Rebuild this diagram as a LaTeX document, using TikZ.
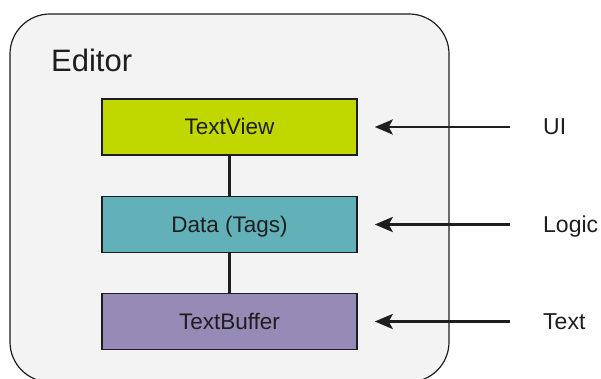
\documentclass[tikz,border=0pt]{standalone}
\usepackage{fontspec}
\setmainfont{Liberation Sans}
\usetikzlibrary{arrows.meta}

\definecolor{panelgray}{HTML}{F3F3F3}
\definecolor{viewgreen}{HTML}{C0D800}
\definecolor{datateal}{HTML}{63B1B8}
\definecolor{bufpurple}{HTML}{958BB6}
\definecolor{inkgray}{HTML}{1E1E1E}

\begin{document}
\begin{tikzpicture}[x=1pt,y=-1pt,
    layer/.style={draw=inkgray,line width=1.5pt,minimum width=255pt,minimum height=56pt,
      inner sep=0pt,text height=16pt,text depth=0pt,text=inkgray,font=\fontsize{22.5}{27}\selectfont},
    side/.style={anchor=west,inner sep=0pt,text height=16pt,text depth=0pt,text=inkgray,
      font=\fontsize{23}{28}\selectfont},
    feed/.style={draw=inkgray,line width=2.8pt,
      -{Stealth[length=18pt,width=15pt,inset=4pt]},shorten <=33pt,shorten >=17pt}]
  \useasboundingbox (0,0) rectangle (601,379);
  \begin{scope}
    \clip (0,0) rectangle (601,379);
    \draw[fill=panelgray,draw=inkgray,line width=1.2pt,rounded corners=40pt]
      (10,14) rectangle (449,382);
  \end{scope}
  \node (editor) at (51,72) [anchor=base west,inner sep=0pt,font=\fontsize{31}{37}\selectfont,text=inkgray] {Editor};
  \node (view) at (229.5,127) [layer,fill=viewgreen] {TextView};
  \node (data) at (229.5,224.5) [layer,fill=datateal] {Data (Tags)};
  \node (buffer) at (229.5,321.5) [layer,fill=bufpurple] {TextBuffer};
  \draw[draw=inkgray,line width=2.5pt] (view) to (data) to (buffer);
  \node (ui) at (543,127) [side] {UI};
  \node (logic) at (543,224.5) [side] {Logic};
  \node (text) at (543,321.5) [side] {Text};
  \draw[feed] (ui.west) -- (view.east);
  \draw[feed] (logic.west) -- (data.east);
  \draw[feed] (text.west) -- (buffer.east);
\end{tikzpicture}
\end{document}
